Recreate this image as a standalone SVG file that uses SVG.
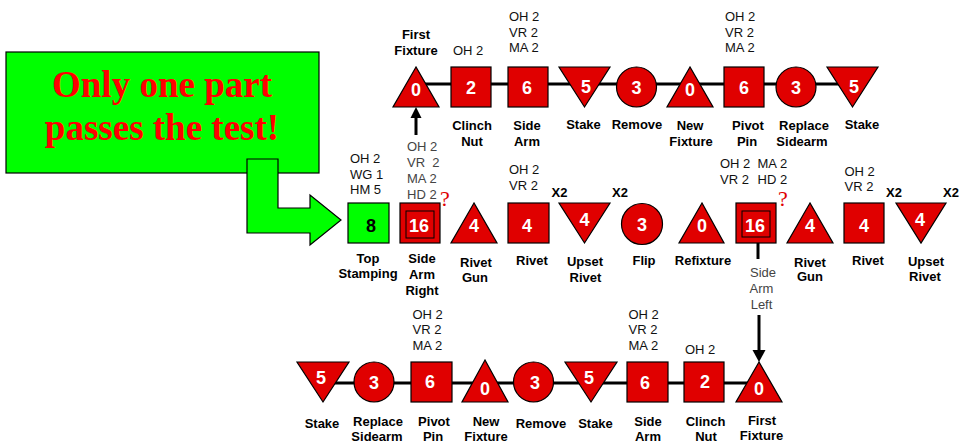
<svg xmlns="http://www.w3.org/2000/svg" width="963" height="445" viewBox="0 0 963 445">
<style>
.s{fill:#E00000;stroke:#000;stroke-width:1.2}
.g{fill:#00FF00;stroke:#000;stroke-width:1.2}
.n{font-family:"Liberation Sans",Arial,sans-serif;font-weight:bold;font-size:18px;fill:#fff;text-anchor:middle}
.l{font-family:"Liberation Sans",Arial,sans-serif;font-weight:bold;font-size:13px;fill:#000;text-anchor:middle}
.a{font-family:"Liberation Sans",Arial,sans-serif;font-size:13px;fill:#111;white-space:pre}
.gr{fill:#444}
.q{font-family:"Liberation Serif","Times New Roman",serif;font-size:22px;fill:#E00000;text-anchor:middle}
.c{stroke:#000;stroke-width:3;fill:none}
.big{font-family:"Liberation Serif","Times New Roman",serif;font-weight:bold;font-size:37px;fill:#FF0000;text-anchor:middle}
</style>
<g id="connectors">
<line class="c" x1="416" y1="84" x2="852" y2="84"/>
<line class="c" x1="323" y1="383" x2="759" y2="383"/>
<line class="c" x1="416" y1="135" x2="416" y2="116"/>
<polygon points="410.5,118 421.5,118 416,107" fill="#000"/>
<line class="c" x1="758" y1="243" x2="758" y2="259"/>
<line class="c" x1="759" y1="315" x2="759" y2="351"/>
<polygon points="752.5,350 765.5,350 759,362" fill="#000"/>
</g>
<g id="callout">
<rect class="g" x="6" y="52" width="313" height="121"/>
<text class="big" x="162" y="97">Only one part</text>
<text class="big" x="162" y="140">passes the test!</text>
<polygon class="g" points="247,159 278,159 278,208 310,208 310,195 341,220 310,245 310,233 247,233"/>
</g>
<!-- top row -->
<g id="t1"><polygon class="s" points="416,67 393,107 439,107"/><text class="n" x="416" y="96">0</text><text class="l" x="416" y="39">First</text><text class="l" x="416" y="55">Fixture</text></g>
<g id="t2"><rect class="s" x="451" y="67" width="40" height="40"/><text class="n" x="471" y="94">2</text><text class="a" x="453" y="55">OH 2</text><text class="l" x="472" y="130">Clinch</text><text class="l" x="472" y="146">Nut</text></g>
<g id="t3"><rect class="s" x="508" y="67" width="40" height="40"/><text class="n" x="527" y="94">6</text><text class="a" x="509" y="21">OH 2</text><text class="a" x="509" y="36.5">VR 2</text><text class="a" x="509" y="52">MA 2</text><text class="l" x="527" y="130">Side</text><text class="l" x="527" y="146">Arm</text></g>
<g id="t4"><polygon class="s" points="559,67 610,67 584.5,107"/><text class="n" x="586" y="93">5</text><text class="l" x="583.5" y="129">Stake</text></g>
<g id="t5"><circle class="s" cx="636.5" cy="87" r="20"/><text class="n" x="636.5" y="93.5">3</text><text class="l" x="637" y="129">Remove</text></g>
<g id="t6"><polygon class="s" points="690,67 667,107 713,107"/><text class="n" x="690" y="96">0</text><text class="l" x="690" y="130">New</text><text class="l" x="691" y="146">Fixture</text></g>
<g id="t7"><rect class="s" x="724" y="67" width="40" height="40"/><text class="n" x="744" y="94">6</text><text class="a" x="725" y="21">OH 2</text><text class="a" x="725" y="36.5">VR 2</text><text class="a" x="725" y="52">MA 2</text><text class="l" x="748" y="130">Pivot</text><text class="l" x="747" y="146">Pin</text></g>
<g id="t8"><circle class="s" cx="796" cy="87" r="20"/><text class="n" x="796" y="93.5">3</text><text class="l" x="804" y="130">Replace</text><text class="l" x="802" y="146">Sidearm</text></g>
<g id="t9"><polygon class="s" points="827,67 878,67 852.5,107"/><text class="n" x="854" y="93">5</text><text class="l" x="862" y="129">Stake</text></g>
<!-- middle row -->
<g id="m1"><rect class="g" x="348" y="203" width="41" height="40"/><text class="n" x="371" y="231.5" fill="#000" style="fill:#000">8</text><text class="a" x="350" y="163">OH 2</text><text class="a" x="350" y="179">WG 1</text><text class="a" x="350" y="194">HM 5</text><text class="l" x="368" y="263">Top</text><text class="l" x="368" y="278">Stamping</text></g>
<g id="m2"><rect class="s" x="400" y="203" width="40" height="40"/><rect x="406" y="211" width="28" height="27" fill="none" stroke="#000" stroke-width="1"/><text class="n" x="419" y="231.5">16</text><text class="a gr" x="407" y="151">OH 2</text><text class="a gr" x="407" y="167">VR  2</text><text class="a gr" x="407" y="183">MA 2</text><text class="a gr" x="407" y="199">HD 2</text><text class="q" x="445" y="206">?</text><text class="l" x="422" y="263">Side</text><text class="l" x="422" y="279">Arm</text><text class="l" x="422" y="295">Right</text></g>
<g id="m3"><polygon class="s" points="474,203 451,243 497,243"/><text class="n" x="474" y="231.5">4</text><text class="l" x="476" y="266.5">Rivet</text><text class="l" x="475" y="281.5">Gun</text></g>
<g id="m4"><rect class="s" x="508" y="203" width="41" height="40"/><text class="n" x="527" y="231.5">4</text><text class="a" x="509" y="174">OH 2</text><text class="a" x="509" y="189.5">VR 2</text><text class="l" x="532" y="265">Rivet</text></g>
<g id="m5"><polygon class="s" points="559,203 610,203 584.5,243"/><text class="n" x="584.5" y="225.5">4</text><text class="l" x="559.5" y="197">X2</text><text class="l" x="620" y="197">X2</text><text class="l" x="585" y="266">Upset</text><text class="l" x="585.5" y="281.5">Rivet</text></g>
<g id="m6"><circle class="s" cx="642" cy="224" r="20.5"/><text class="n" x="642" y="230.5">3</text><text class="l" x="644" y="265">Flip</text></g>
<g id="m7"><polygon class="s" points="702,203 679,243 724,243"/><text class="n" x="702" y="231.5">0</text><text class="l" x="703" y="265">Refixture</text></g>
<g id="m8"><rect class="s" x="736" y="203" width="40" height="40"/><rect x="742" y="211" width="28" height="26" fill="none" stroke="#000" stroke-width="1"/><text class="n" x="755" y="231.5">16</text><text class="a" x="720" y="168">OH 2</text><text class="a" x="757.5" y="168">MA 2</text><text class="a" x="720" y="183.5">VR 2</text><text class="a" x="757.5" y="183.5">HD 2</text><text class="q" x="783" y="206">?</text><text class="l gr" x="763" y="277" style="font-weight:normal;fill:#444">Side</text><text class="l" x="761.5" y="293" style="font-weight:normal;fill:#444">Arm</text><text class="l" x="761.5" y="308.5" style="font-weight:normal;fill:#444">Left</text></g>
<g id="m9"><polygon class="s" points="810,203 787,243 833,243"/><text class="n" x="810" y="231.5">4</text><text class="l" x="810" y="266.5">Rivet</text><text class="l" x="810" y="281">Gun</text></g>
<g id="m10"><rect class="s" x="844" y="203" width="40" height="40"/><text class="n" x="864" y="231.5">4</text><text class="a" x="844.5" y="176">OH 2</text><text class="a" x="844.5" y="191">VR 2</text><text class="l" x="868" y="265">Rivet</text></g>
<g id="m11"><polygon class="s" points="896,203 946,203 921,243"/><text class="n" x="920" y="225.5">4</text><text class="l" x="894" y="197">X2</text><text class="l" x="951" y="197">X2</text><text class="l" x="926" y="266">Upset</text><text class="l" x="925" y="281">Rivet</text></g>
<!-- bottom row -->
<g id="b1"><polygon class="s" points="297,362 349,362 323,402"/><text class="n" x="321" y="383.5">5</text><text class="l" x="322" y="427.5">Stake</text></g>
<g id="b2"><circle class="s" cx="374" cy="382" r="20"/><text class="n" x="374" y="388.5">3</text><text class="l" x="378" y="426">Replace</text><text class="l" x="377" y="441">Sidearm</text></g>
<g id="b3"><rect class="s" x="411" y="362" width="41" height="40"/><text class="n" x="430" y="387.5">6</text><text class="a" x="412.5" y="318.5">OH 2</text><text class="a" x="412.5" y="334">VR 2</text><text class="a" x="412.5" y="349.5">MA 2</text><text class="l" x="434" y="426">Pivot</text><text class="l" x="433" y="441">Pin</text></g>
<g id="b4"><polygon class="s" points="485,360 462,402 508,402"/><text class="n" x="485" y="394.5">0</text><text class="l" x="486" y="426">New</text><text class="l" x="486" y="441">Fixture</text></g>
<g id="b5"><circle class="s" cx="533.5" cy="382" r="20"/><text class="n" x="535" y="388.5">3</text><text class="l" x="541" y="427.5">Remove</text></g>
<g id="b6"><polygon class="s" points="565,362 617,362 591,402"/><text class="n" x="589" y="383.5">5</text><text class="l" x="595.5" y="427.5">Stake</text></g>
<g id="b7"><rect class="s" x="627" y="362" width="41" height="40"/><text class="n" x="645" y="388.5">6</text><text class="a" x="628.5" y="318.5">OH 2</text><text class="a" x="628.5" y="334">VR 2</text><text class="a" x="628.5" y="349.5">MA 2</text><text class="l" x="648" y="426">Side</text><text class="l" x="648" y="441">Arm</text></g>
<g id="b8"><rect class="s" x="684" y="362" width="40" height="40"/><text class="n" x="705" y="387.5">2</text><text class="a" x="685" y="354">OH 2</text><text class="l" x="705.5" y="426">Clinch</text><text class="l" x="706" y="441">Nut</text></g>
<g id="b9"><polygon class="s" points="759,362 736,402 782,402"/><text class="n" x="759" y="394.5">0</text><text class="l" x="762" y="425">First</text><text class="l" x="761.5" y="440">Fixture</text></g>
</svg>
